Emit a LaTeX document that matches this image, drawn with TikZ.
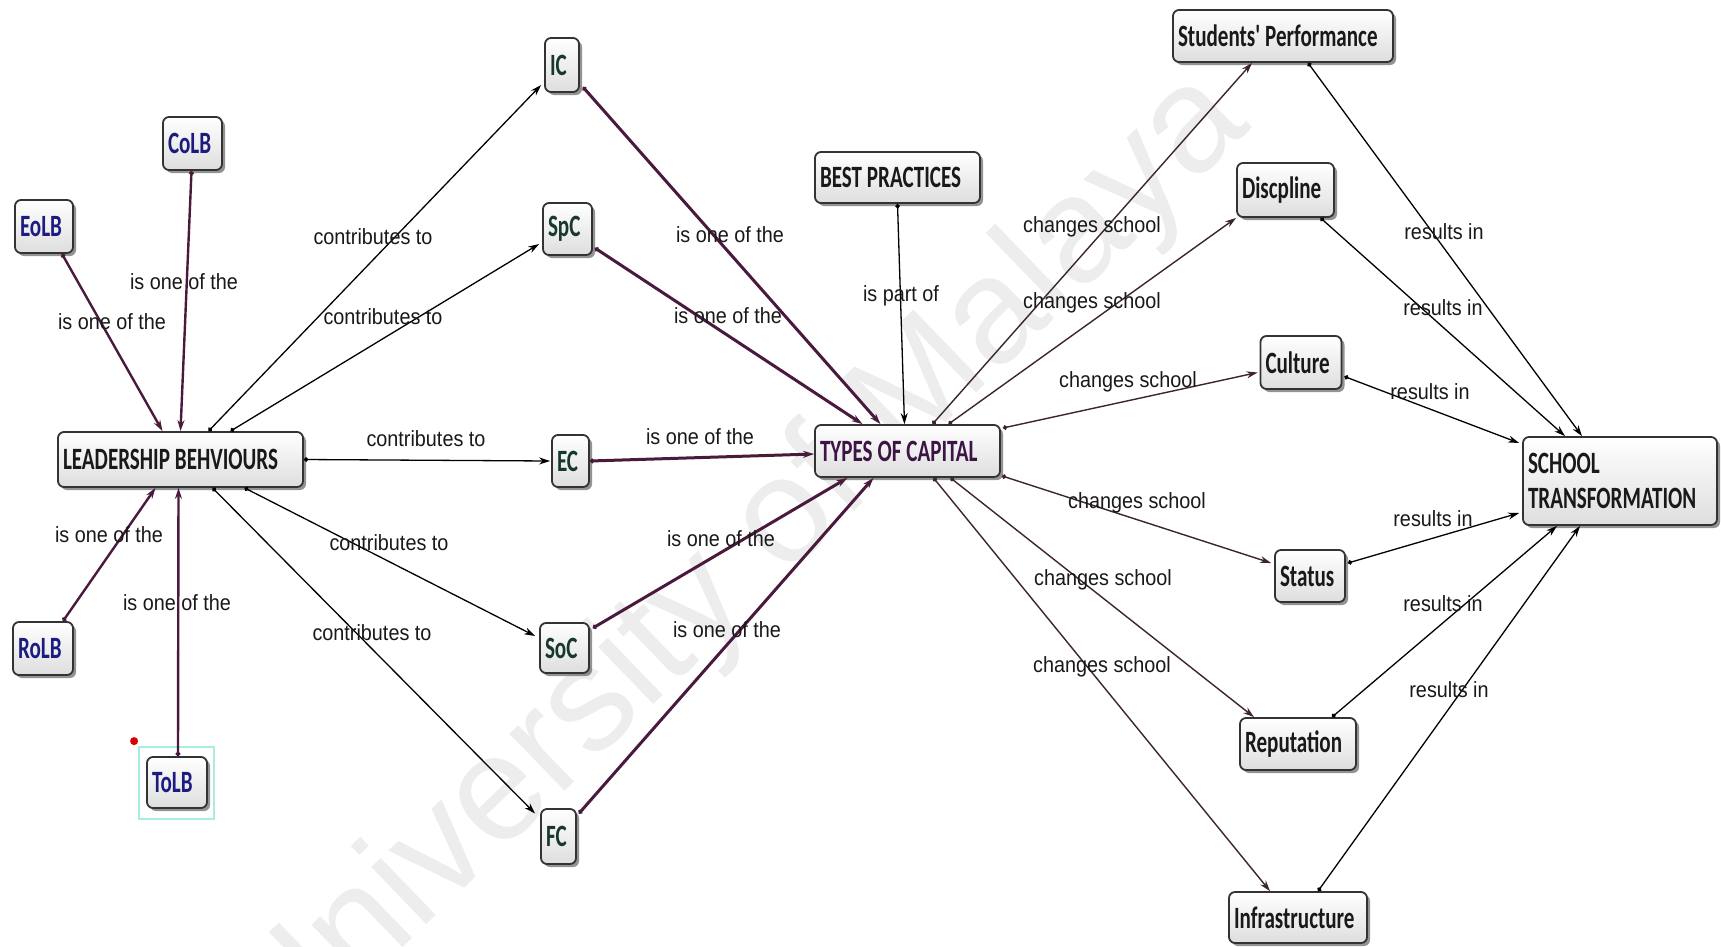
\documentclass[tikz,border=0pt]{standalone}
\usepackage{fontspec}
\newfontfamily\boxfont{Carlito}[FakeStretch=0.68]
\newfontfamily\lblfont{Liberation Sans}[FakeStretch=0.9]
\newfontfamily\wmfont{Liberation Sans}
\usetikzlibrary{calc,shadows,arrows.meta}

\definecolor{navyname}{HTML}{1C1C80}
\definecolor{tealname}{HTML}{17382E}
\definecolor{capname}{HTML}{3D1545}
\definecolor{linkpurple}{HTML}{4A1A3C}
\definecolor{chgpurple}{HTML}{3C2434}
\definecolor{markcyan}{HTML}{A8EEE0}

\tikzset{
  box/.style={draw=black!80, line width=1.8pt, rounded corners=6pt,
    top color=white, bottom color=black!13,
    drop shadow={shadow xshift=3pt, shadow yshift=-3pt, fill=black!70, opacity=0.6},
    inner xsep=5pt, inner ysep=0pt, align=left, text=black!90,
    font=\boxfont\bfseries\fontsize{31}{35}\selectfont,
    execute at begin node={\spaceskip=4.9pt\relax}},
  lbl/.style={font=\lblfont\fontsize{22}{24}\selectfont, inner sep=0pt, text=black!90},
  link/.style={line width=1.3pt, draw=black,
    {Circle[length=4.5pt]}-{Stealth[length=11pt,width=7pt]}},
  member/.style={link, line width=2.4pt, draw=linkpurple},
  capital/.style={link, line width=3pt, draw=linkpurple},
  changes/.style={link, line width=1.4pt, draw=chgpurple},
}

\begin{document}
\begin{tikzpicture}[x=1pt,y=-1pt]
\useasboundingbox[fill=white] (0,0) rectangle (1721,946);

% faint watermark behind the map
\node[rotate=44, text=black!7, font=\wmfont\fontsize{150}{150}\selectfont] (wm) at (740,568) {University of Malaya};

% leadership behaviours cluster
\node[box, text width=49pt, minimum height=53pt, text=navyname] (CoLB) at (192.5,143.5) {CoLB};
\node[box, text width=48pt, minimum height=53pt, text=navyname] (EoLB) at (44,226.5) {EoLB};
\node[box, text width=235pt, minimum height=55pt] (LB) at (180.5,459.5) {LEADERSHIP BEHVIOURS};
\node[box, text width=50pt, minimum height=53pt, text=navyname] (RoLB) at (43,648.5) {RoLB};
\node[box, text width=50pt, minimum height=51pt, text=navyname] (ToLB) at (177,782.5) {ToLB};

% selection mark on ToLB
\draw[markcyan, line width=2pt] ($(ToLB.north west)+(-7,-9)$) rectangle ($(ToLB.south east)+(6,10)$);
\fill[red!85!black] ($(ToLB.north west)+(-12,-15)$) circle (4);

% types of capital
\node[box, text width=24pt, minimum height=54pt, text=tealname] (IC) at (562,65) {IC};
\node[box, text width=39pt, minimum height=52pt, text=tealname] (SpC) at (567.5,229) {SpC};
\node[box, text width=27pt, minimum height=52pt, text=tealname] (EC) at (570.5,461) {EC};
\node[box, text width=39pt, minimum height=50pt, text=tealname] (SoC) at (564.5,648) {SoC};
\node[box, text width=25pt, minimum height=55pt, text=tealname] (FC) at (558.5,836.5) {FC};

\node[box, text width=155pt, minimum height=51pt] (BP) at (897.5,177.5) {BEST PRACTICES};
\node[box, text width=175pt, minimum height=52pt, text=capname] (TC) at (907.5,451) {TYPES OF CAPITAL};

% outcomes
\node[box, text width=210pt, minimum height=52pt] (SP) at (1283,36) {Students' Performance};
\node[box, text width=87pt, minimum height=54pt] (DI) at (1285.5,190) {Discpline};
\node[box, text width=71pt, minimum height=53pt] (CU) at (1301,362.5) {Culture};
\node[box, text width=60pt, minimum height=52pt] (ST) at (1310,576) {Status};
\node[box, text width=106pt, minimum height=52pt] (RE) at (1298,744) {Reputation};
\node[box, text width=128pt, minimum height=51pt] (IN) at (1298,917.5) {Infrastructure};
\node[box, text width=184pt, minimum height=88pt] (SCH) at (1620,481) {SCHOOL\\TRANSFORMATION};

% behaviours feeding leadership
\draw[member] ($(EoLB.south)+(18,0)$) -- ($(LB.north)+(-18,0)$);
\draw[member] ($(CoLB.south)+(-1,0)$) -- (LB.north);
\draw[member] ($(RoLB.north)+(20,0)$) -- ($(LB.south)+(-25,0)$);
\draw[member] ($(ToLB.north)+(1,0)$) -- ($(LB.south)+(-2,0)$);

% leadership contributes to capitals
\draw[link] ($(LB.north)+(28,0)$) -- ($(IC.west)+(-3,20)$);
\draw[link] ($(LB.north)+(50,0)$) -- ($(SpC.west)+(-3,15)$);
\draw[link] (LB.east) -- ($(EC.west)+(-1,0)$);
\draw[link] ($(LB.south)+(64,0)$) -- ($(SoC.west)+(-4,-12)$);
\draw[link] ($(LB.south)+(32,0)$) -- ($(FC.west)+(-5,-23)$);

% capitals are types of capital
\draw[capital] ($(IC.east)+(3,22)$) -- ($(TC.north)+(-27,0)$);
\draw[capital] ($(SpC.east)+(2,19)$) -- ($(TC.north)+(-45,0)$);
\draw[capital] (EC.east) -- ($(TC.west)+(0,3)$);
\draw[capital] ($(SoC.east)+(3,-20)$) -- ($(TC.south)+(-60,0)$);
\draw[capital] ($(FC.east)+(2,-23)$) -- ($(TC.south)+(-34,0)$);
\draw[link] (BP.south) -- ($(TC.north)+(-3,0)$);

% types of capital change the school
\draw[changes] ($(TC.north)+(25,0)$) -- ($(SP.south)+(-31,0)$);
\draw[changes] ($(TC.north)+(41,0)$) -- (DI.south west);
\draw[changes] ($(TC.east)+(2,-23)$) -- ($(CU.west)+(-2,10)$);
\draw[changes] ($(TC.south east)+(1,-2)$) -- ($(ST.west)+(-3,-13)$);
\draw[changes] ($(TC.south)+(43,0)$) -- ($(RE.north)+(-44,0)$);
\draw[changes] ($(TC.south)+(26,0)$) -- ($(IN.north)+(-28,0)$);

% outcomes result in transformation
\draw[link] ($(SP.south)+(25,0)$) -- ($(SCH.north)+(-38,0)$);
\draw[link] ($(DI.south)+(35,0)$) -- ($(SCH.north)+(-55,0)$);
\draw[link] ($(CU.east)+(2,14)$) -- ($(SCH.west)+(-3,-38)$);
\draw[link] ($(ST.east)+(2,-13)$) -- ($(SCH.west)+(-3,32)$);
\draw[link] ($(RE.north)+(34,0)$) -- ($(SCH.south)+(-63,0)$);
\draw[link] ($(IN.north)+(20,0)$) -- ($(SCH.south)+(-40,0)$);

% connector labels
\node[lbl] (l1) at (184,282) {is one of the};
\node[lbl] (l2) at (112,322) {is one of the};
\node[lbl] (l3) at (109,535) {is one of the};
\node[lbl] (l4) at (177,603) {is one of the};
\node[lbl] (l5) at (373,237) {contributes to};
\node[lbl] (l6) at (383,317) {contributes to};
\node[lbl] (l7) at (426,439) {contributes to};
\node[lbl] (l8) at (389,543) {contributes to};
\node[lbl] (l9) at (372,633) {contributes to};
\node[lbl] (l10) at (730,235) {is one of the};
\node[lbl] (l11) at (728,316) {is one of the};
\node[lbl] (l12) at (700,437) {is one of the};
\node[lbl] (l13) at (721,539) {is one of the};
\node[lbl] (l14) at (727,630) {is one of the};
\node[lbl] (l15) at (901,296) {is part of};
\node[lbl] (l16) at (1092,227) {changes school};
\node[lbl] (l17) at (1092,303) {changes school};
\node[lbl] (l18) at (1128,382) {changes school};
\node[lbl] (l19) at (1137,503) {changes school};
\node[lbl] (l20) at (1103,580) {changes school};
\node[lbl] (l21) at (1102,667) {changes school};
\node[lbl] (l22) at (1444,232) {results in};
\node[lbl] (l23) at (1443,308) {results in};
\node[lbl] (l24) at (1430,392) {results in};
\node[lbl] (l25) at (1433,519) {results in};
\node[lbl] (l26) at (1443,604) {results in};
\node[lbl] (l27) at (1449,690) {results in};
\end{tikzpicture}
\end{document}
